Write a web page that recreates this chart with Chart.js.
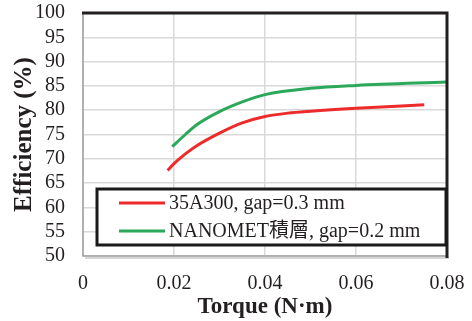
<!DOCTYPE html>
<html>
<head>
<meta charset="utf-8">
<script src="https://cdn.jsdelivr.net/npm/chart.js@4/dist/chart.umd.min.js"></script>
<style>
  html, body { margin: 0; padding: 0; background: #fff; }
  #wrap { width: 472px; height: 321px; }
</style>
</head>
<body>
<div id="wrap"><canvas id="chart" width="472" height="321"></canvas></div>
<script>
// datos
const torqueA = [0.0186, 0.020, 0.0225, 0.025, 0.030, 0.035, 0.040, 0.045, 0.050, 0.060, 0.075];
const effA    = [67.6,   69.0,  71.0,   72.7,  75.3,  77.4,  78.7,  79.4,  79.8,  80.4,  81.1];
const torqueB = [0.0196, 0.0225, 0.025, 0.030, 0.035, 0.040, 0.050, 0.060, 0.080];
const effB    = [72.5,   75.0,   77.0,  79.7,  81.7,  83.2,  84.5,  85.1,  85.8];
const labels  = ['35A300, gap=0.3 mm', 'NANOMET積層, gap=0.2 mm'];
const colors  = ['#ee2b2b', '#2ba85a'];
const xTicks  = [0, 0.02, 0.04, 0.06, 0.08];

const serif = '"Liberation Serif", "Times New Roman", "Noto Sans CJK TC", serif';

function toPoints(xs, ys) {
    return xs.map((x, i) => ({ x: x, y: ys[i] }));
}

// marco: izquierda/abajo gris, arriba/derecha negro
const framePlugin = {
    id: 'frame',
    afterDatasetsDraw(chart) {
        const { ctx, chartArea: a } = chart;
        ctx.save();
        ctx.strokeStyle = '#a0a0a0';
        ctx.lineWidth = 1.5;
        ctx.beginPath();
        ctx.moveTo(a.left, a.top);
        ctx.lineTo(a.left, a.bottom);
        ctx.lineTo(a.right, a.bottom);
        ctx.stroke();
        ctx.strokeStyle = '#c8c8c8';
        ctx.beginPath();
        ctx.moveTo(a.left + 2, a.bottom + 2);
        ctx.lineTo(a.right + 2, a.bottom + 2);
        ctx.stroke();
        ctx.strokeStyle = '#231f20';
        ctx.lineWidth = 3;
        ctx.beginPath();
        ctx.moveTo(a.left - 1, a.top);
        ctx.lineTo(a.right, a.top);
        ctx.lineTo(a.right, a.bottom + 2);
        ctx.stroke();
        ctx.restore();
    }
};

// leyenda dentro del área
const boxLegend = {
    id: 'boxLegend',
    afterDraw(chart) {
        const { ctx, chartArea: a } = chart;
        const x0 = a.left + 14, x1 = a.right - 1;
        const y0 = a.bottom - 67, y1 = a.bottom - 11;
        ctx.save();
        ctx.fillStyle = '#fff';
        ctx.fillRect(x0, y0, x1 - x0, y1 - y0);
        ctx.strokeStyle = '#1a1a1a';
        ctx.lineWidth = 3;
        ctx.strokeRect(x0, y0, x1 - x0, y1 - y0);
        ctx.font = '20px ' + serif;
        ctx.textBaseline = 'middle';
        chart.data.datasets.forEach((ds, i) => {
            const y = y0 + 14 + i * 28;
            ctx.strokeStyle = ds.borderColor;
            ctx.lineWidth = 3;
            ctx.beginPath();
            ctx.moveTo(x0 + 22, y);
            ctx.lineTo(x0 + 68, y);
            ctx.stroke();
            ctx.fillStyle = '#231f20';
            ctx.fillText(ds.label, x0 + 72, y + 1);
        });
        ctx.restore();
    }
};

new Chart(document.getElementById('chart'), {
    type: 'line',
    data: {
        datasets: [
            { label: labels[0], data: toPoints(torqueA, effA), borderColor: colors[0] },
            { label: labels[1], data: toPoints(torqueB, effB), borderColor: colors[1] }
        ]
    },
    options: {
        responsive: false,
        animation: false,
        layout: { padding: { left: 8, right: 25, top: 13, bottom: 0 } },
        elements: {
            line: { borderWidth: 3, cubicInterpolationMode: 'monotone', fill: false },
            point: { radius: 0 }
        },
        plugins: { legend: { display: false }, tooltip: { enabled: false } },
        scales: {
            x: {
                type: 'linear',
                min: 0, max: 0.08,
                afterBuildTicks: axis => { axis.ticks = xTicks.map(v => ({ value: v })); },
                afterFit: axis => {
                    axis.height = 65;
                    axis.paddingLeft = 0;
                    axis.paddingRight = 0;
                },
                grid: { color: '#d9d9d9', lineWidth: 1.5, drawTicks: false },
                border: { display: false },
                ticks: {
                    padding: 16,
                    autoSkip: false,
                    maxRotation: 0,
                    color: '#231f20',
                    font: { family: serif, size: 20 },
                    callback: v => v === 0 ? '0' : v.toFixed(2)
                },
                title: {
                    display: true,
                    text: 'Torque (N·m)',
                    color: '#231f20',
                    padding: { top: 0, bottom: 0 },
                    font: { family: serif, size: 23, weight: 'bold' }
                }
            },
            y: {
                min: 50, max: 100,
                afterFit: axis => {
                    axis.width = 75;
                    axis.paddingTop = 0;
                    axis.paddingBottom = 0;
                },
                ticks: {
                    stepSize: 5,
                    autoSkip: false,
                    padding: 18,
                    color: '#231f20',
                    font: { family: serif, size: 20 }
                },
                grid: { color: '#d9d9d9', lineWidth: 1.5, drawTicks: false },
                border: { display: false },
                title: {
                    display: true,
                    text: 'Efficiency (%)',
                    color: '#231f20',
                    padding: { top: 2, bottom: 2 },
                    font: { family: serif, size: 25, weight: 'bold' }
                }
            }
        }
    },
    plugins: [framePlugin, boxLegend]
});
</script>
</body>
</html>
